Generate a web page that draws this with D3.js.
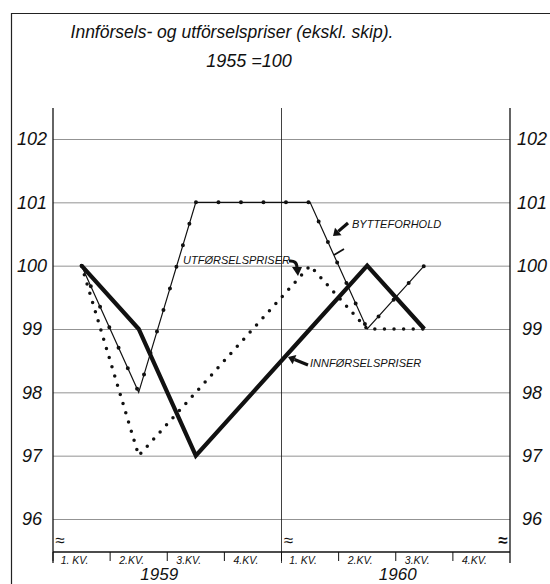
<!DOCTYPE html>
<html>
<head>
<meta charset="utf-8">
<script src="https://cdn.jsdelivr.net/npm/d3@7"></script>
<style>
  body { margin: 0; background: #fff; }
  text { font-family: "Liberation Sans", Arial, sans-serif; font-style: italic; fill: #111; }
</style>
</head>
<body>
<div id="chart"></div>
<script>
// quarters 1959-1960, values index 1955 = 100
const periods = ["1959-1", "1959-2", "1959-3", "1959-4", "1960-1", "1960-2", "1960-3", "1960-4"];
const quarterLabels = ["1. KV.", "2.KV.", "3.KV.", "4.KV.", "1. KV.", "2.KV.", "3.KV.", "4.KV."];
const years = ["1959", "1960"];
const yTicks = [96, 97, 98, 99, 100, 101, 102];

const innforsel = [100, 99, 97, 98, 99, 100, 99];
const utforsel = [100, 97, 98, 99, 100, 99, 99];
const bytteforhold = [100, 98, 101, 101, 101, 99, 100];

var width = 550;
var height = 584;
const plot = {left: 53, right: 510, top: 108, bottom: 552};

var svg = d3.select('#chart')
    .append('svg')
    .attr('width', width)
    .attr('height', height);

svg.append('rect').attr('width', width).attr('height', height).attr('fill', '#fff');

// outer frame (top + left edge only, rest is cut off)
svg.append('path')
    .attr('d', 'M11.5,' + height + 'V13.5H' + width)
    .attr('fill', 'none')
    .attr('stroke', '#222')
    .attr('stroke-width', 1.2);

svg.append('text')
    .attr('x', 232).attr('y', 38)
    .attr('text-anchor', 'middle')
    .attr('font-size', '17.5px')
    .text('Innförsels- og utförselspriser (ekskl. skip).');

svg.append('text')
    .attr('x', 249).attr('y', 67)
    .attr('text-anchor', 'middle')
    .attr('font-size', '18px')
    .text('1955 =100');

var x = d3.scaleBand()
    .domain(periods)
    .range([plot.left, plot.right]);

var y = d3.scaleLinear()
    .domain([96, 102])
    .range([519, 139]);

// gridlines + left labels
var leftAxis = svg.append('g')
    .attr('transform', 'translate(' + plot.left + ',0)')
    .call(d3.axisLeft(y).tickValues(yTicks).tickSize(-(plot.right - plot.left)).tickFormat(d3.format('d')));
leftAxis.select('.domain').remove();
leftAxis.selectAll('line').attr('stroke', '#777').attr('stroke-width', 0.8);
leftAxis.selectAll('text')
    .attr('x', -21)
    .attr('text-anchor', 'middle')
    .attr('font-size', '18px')
    .style('font-family', '"Liberation Sans", Arial, sans-serif')
    .style('font-style', 'italic');

var rightAxis = svg.append('g')
    .attr('transform', 'translate(' + plot.right + ',0)')
    .call(d3.axisRight(y).tickValues(yTicks).tickSize(0).tickFormat(d3.format('d')));
rightAxis.select('.domain').remove();
rightAxis.selectAll('text')
    .attr('x', 22)
    .attr('text-anchor', 'middle')
    .attr('font-size', '18px')
    .style('font-family', '"Liberation Sans", Arial, sans-serif')
    .style('font-style', 'italic');

// vertical axis lines: left, middle (year break), right
[plot.left, x('1960-1'), plot.right].forEach(function (px, i) {
    svg.append('line')
        .attr('x1', px).attr('x2', px)
        .attr('y1', plot.top).attr('y2', plot.bottom + 11)
        .attr('stroke', '#111')
        .attr('stroke-width', i === 1 ? 0.8 : 1.3);
});

// x axis baseline and quarter ticks
svg.append('line')
    .attr('x1', plot.left).attr('x2', plot.right)
    .attr('y1', plot.bottom).attr('y2', plot.bottom)
    .attr('stroke', '#111').attr('stroke-width', 1.6);

svg.selectAll('.qtick')
    .data(periods)
    .enter().append('line')
    .attr('class', 'qtick')
    .attr('x1', d => x(d)).attr('x2', d => x(d))
    .attr('y1', plot.bottom).attr('y2', plot.bottom + 9)
    .attr('stroke', '#111').attr('stroke-width', 1);

var bottomAxis = svg.append('g')
    .attr('transform', 'translate(-7,' + plot.bottom + ')')
    .call(d3.axisBottom(x).tickSize(0).tickPadding(5).tickFormat((d, i) => quarterLabels[i]));
bottomAxis.select('.domain').remove();
bottomAxis.selectAll('text')
    .attr('font-size', '10.5px')
    .style('font-family', '"Liberation Sans", Arial, sans-serif')
    .style('font-style', 'italic');

svg.selectAll('.year')
    .data(years)
    .enter().append('text')
    .attr('class', 'year')
    .attr('x', (d, i) => x(d + '-2') + x.bandwidth() + (i === 0 ? -8 : 2))
    .attr('y', 580)
    .attr('text-anchor', 'middle')
    .attr('font-size', '17px')
    .text(d => d);

// axis break marks
[[plot.left + 7, 'normal'], [x('1960-1') + 7, 'normal'], [plot.right - 7, 'bold']].forEach(function (b) {
    svg.append('text')
        .attr('x', b[0]).attr('y', 546)
        .attr('text-anchor', 'middle')
        .attr('font-size', '17px')
        .style('font-style', 'normal')
        .style('font-weight', b[1])
        .text('≈');
});

var line = d3.line()
    .x((d, i) => x(periods[i]) + x.bandwidth() / 2)
    .y(d => y(d));

// utførselspriser: dotted
svg.append('path')
    .datum(utforsel)
    .attr('d', line)
    .attr('fill', 'none')
    .attr('stroke', '#111')
    .attr('stroke-width', 3.5)
    .attr('stroke-linecap', 'round')
    .attr('stroke-dasharray', '0 9.6');

// bytteforhold: thin line with dots
svg.append('path')
    .datum(bytteforhold)
    .attr('d', line)
    .attr('fill', 'none')
    .attr('stroke', '#111')
    .attr('stroke-width', 1.2);

svg.append('path')
    .datum(bytteforhold)
    .attr('d', line)
    .attr('fill', 'none')
    .attr('stroke', '#111')
    .attr('stroke-width', 4)
    .attr('stroke-linecap', 'round')
    .attr('stroke-dasharray', '0 22.5');

// innførselspriser: heavy line
svg.append('path')
    .datum(innforsel)
    .attr('d', line)
    .attr('fill', 'none')
    .attr('stroke', '#111')
    .attr('stroke-width', 4.2)
    .attr('stroke-linejoin', 'miter');

// labels with arrows
function arrow(x1, y1, x2, y2) {
    var a = Math.atan2(y2 - y1, x2 - x1);
    var len = 7, w = 5;
    var bx = x2 - len * Math.cos(a), by = y2 - len * Math.sin(a);
    svg.append('line')
        .attr('x1', x1).attr('y1', y1).attr('x2', bx).attr('y2', by)
        .attr('stroke', '#111').attr('stroke-width', 3.2);
    svg.append('path')
        .attr('d', 'M' + x2 + ',' + y2 +
            'L' + (bx + w * Math.sin(a)) + ',' + (by - w * Math.cos(a)) +
            'L' + (bx - w * Math.sin(a)) + ',' + (by + w * Math.cos(a)) + 'Z')
        .attr('fill', '#111');
}

svg.append('text')
    .attr('x', 352).attr('y', 228)
    .attr('font-size', '11px')
    .text('BYTTEFORHOLD');
arrow(348, 223, 333, 236);
svg.append('line')
    .attr('x1', 334).attr('y1', 255).attr('x2', 344).attr('y2', 249)
    .attr('stroke', '#111').attr('stroke-width', 1.8);

svg.append('text')
    .attr('x', 183).attr('y', 264)
    .attr('font-size', '11px')
    .text('UTFØRSELSPRISER');
svg.append('path')
    .attr('d', 'M289,261 Q297,260 297,268')
    .attr('fill', 'none')
    .attr('stroke', '#111').attr('stroke-width', 3);
svg.append('path')
    .attr('d', 'M292,267 L302,267 L298,276 Z')
    .attr('fill', '#111');

svg.append('text')
    .attr('x', 310).attr('y', 367)
    .attr('font-size', '11px')
    .text('INNFØRSELSPRISER');
arrow(308, 365, 288, 357);
</script>
</body>
</html>
